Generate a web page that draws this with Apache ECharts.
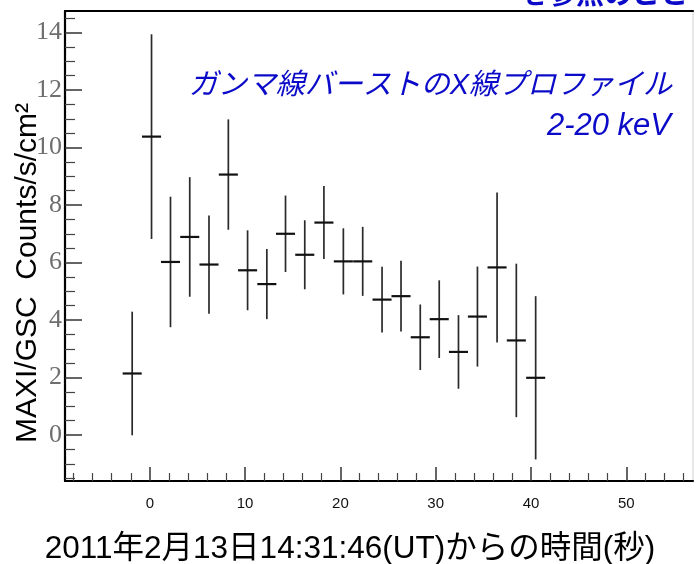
<!DOCTYPE html>
<html>
<head>
<meta charset="utf-8">
<script src="https://cdn.jsdelivr.net/npm/echarts@6/dist/echarts.min.js"></script>
<style>
html,body{margin:0;padding:0;background:#fff;}
#chart{width:697px;height:564px;}
</style>
</head>
<body>
<div id="chart"></div>
<script>
// ---- data ----
const binCenters = [-1.85, 0.18, 2.17, 4.19, 6.21, 8.24, 10.26, 12.28, 14.24, 16.26, 18.27,
                    20.31, 22.34, 24.37, 26.36, 28.38, 30.37, 32.39, 34.38, 36.44, 38.46, 40.49];
const rates = [2.14, 10.38, 6.02, 6.89, 5.93, 9.06, 5.73, 5.25, 7.00, 6.27, 7.39,
               6.04, 6.04, 4.71, 4.83, 3.40, 4.03, 2.89, 4.12, 5.83, 3.29, 1.99];
const rateErrors = [2.15, 3.56, 2.27, 2.08, 1.71, 1.92, 1.39, 1.22, 1.33, 1.20, 1.27,
                    1.15, 1.20, 1.14, 1.23, 1.14, 1.35, 1.28, 1.74, 2.61, 2.67, 2.84];
const binHalfWidth = 1.0;

const xRange = [-8.9, 57];
const yRange = [-1.6, 14.75];
const xMajorTicks = [0, 10, 20, 30, 40, 50];
const xMinorTicks = [-8, -6, -4, -2, 2, 4, 6, 8, 12, 14, 16, 18, 22, 24, 26, 28, 32, 34, 36, 38, 42, 44, 46, 48, 52, 54, 56];
const yMajorTicks = [0, 2, 4, 6, 8, 10, 12, 14];
const yMinorTicks = [-1.5, -1, -0.5, 0.5, 1, 1.5, 2.5, 3, 3.5, 4.5, 5, 5.5, 6.5, 7, 7.5, 8.5, 9, 9.5,
                     10.5, 11, 11.5, 12.5, 13, 13.5, 14.5];

const xTitle = '2011年2月13日14:31:46(UT)からの時間(秒)';
const yTitle = 'MAXI/GSC  Counts/s/cm²';
const noteLine1 = 'ガンマ線バーストのX線プロファイル';
const noteLine2 = '2-20 keV';
const topCutText = 'を参照のこと';

const seriesData = binCenters.map((x, i) => [x, rates[i], rateErrors[i], binHalfWidth]);

const chart = echarts.init(document.getElementById('chart'), null, {renderer: 'canvas'});
const blue = '#0a0ac8';

const option = {
  animation: false,
  backgroundColor: '#fff',
  grid: {left: 65, top: 11, right: 4, bottom: 83, show: true, borderColor: '#d0d0d0', borderWidth: 1},
  xAxis: [
    {
      type: 'value', position: 'bottom', min: xRange[0], max: xRange[1],
      axisLine: {show: true, onZero: false, lineStyle: {color: '#000', width: 2.2}},
      axisTick: {show: true, inside: true, length: 14, customValues: xMajorTicks, lineStyle: {color: '#333', width: 1.5}},
      axisLabel: {show: true, customValues: xMajorTicks, margin: 15, color: '#111', fontSize: 15, fontFamily: 'Liberation Sans, Arial, sans-serif'},
      splitLine: {show: false}
    },
    {
      type: 'value', position: 'bottom', min: xRange[0], max: xRange[1],
      axisLine: {show: false, onZero: false},
      axisTick: {show: true, inside: true, length: 8, customValues: xMinorTicks, lineStyle: {color: '#444', width: 1.2}},
      axisLabel: {show: false},
      splitLine: {show: false}
    },
    {
      type: 'value', position: 'top', min: xRange[0], max: xRange[1],
      axisLine: {show: true, onZero: false, lineStyle: {color: '#000', width: 2.2}},
      axisTick: {show: false}, axisLabel: {show: false}, splitLine: {show: false}
    }
  ],
  yAxis: [
    {
      type: 'value', position: 'left', min: yRange[0], max: yRange[1],
      axisLine: {show: true, onZero: false, lineStyle: {color: '#000', width: 2.2}},
      axisTick: {show: true, inside: true, length: 17, customValues: yMajorTicks, lineStyle: {color: '#333', width: 1.5}},
      axisLabel: {show: true, customValues: yMajorTicks, margin: 3, color: '#6e6e6e', fontSize: 26, fontFamily: 'Liberation Serif, Times New Roman, serif'},
      splitLine: {show: false}
    },
    {
      type: 'value', position: 'left', min: yRange[0], max: yRange[1],
      axisLine: {show: false, onZero: false},
      axisTick: {show: true, inside: true, length: 10, customValues: yMinorTicks, lineStyle: {color: '#444', width: 1.2}},
      axisLabel: {show: false},
      splitLine: {show: false}
    }
  ],
  series: [{
    type: 'custom',
    xAxisIndex: 0, yAxisIndex: 0,
    data: seriesData,
    encode: {x: 0, y: 1},
    renderItem: function (params, api) {
      const x = api.value(0), y = api.value(1), e = api.value(2), hw = api.value(3);
      const top = api.coord([x, y + e]);
      const bot = api.coord([x, y - e]);
      const left = api.coord([x - hw, y]);
      const right = api.coord([x + hw, y]);
      return {
        type: 'group',
        children: [
          {type: 'line', shape: {x1: top[0], y1: top[1], x2: bot[0], y2: bot[1]},
           style: {stroke: '#2a2a2a', lineWidth: 1.7}},
          {type: 'line', shape: {x1: left[0], y1: left[1], x2: right[0], y2: right[1]},
           style: {stroke: '#111', lineWidth: 2.2}}
        ]
      };
    }
  }],
  graphic: [
    {type: 'text', x: 672, y: 86, style: {text: noteLine1, fill: blue, textAlign: 'right', textVerticalAlign: 'middle',
      fontSize: 29, fontStyle: 'italic', fontFamily: 'Liberation Sans, Noto Sans CJK JP, sans-serif'}},
    {type: 'text', x: 671, y: 126, style: {text: noteLine2, fill: blue, textAlign: 'right', textVerticalAlign: 'middle',
      fontSize: 31, fontStyle: 'italic', fontFamily: 'Liberation Sans, Arial, sans-serif'}},
    {type: 'text', x: 520, y: 7, style: {text: topCutText, fill: blue, textAlign: 'left', textVerticalAlign: 'bottom',
      fontSize: 28, fontWeight: 'bold', fontFamily: 'Noto Sans CJK JP, sans-serif'}},
    {type: 'text', x: 350, y: 549, style: {text: xTitle, fill: '#000', textAlign: 'center', textVerticalAlign: 'middle',
      fontSize: 31.5, fontFamily: 'Liberation Sans, Noto Sans CJK JP, sans-serif'}},
    {type: 'text', x: 28, y: 273, rotation: Math.PI / 2, style: {text: yTitle, fill: '#000', textAlign: 'center', textVerticalAlign: 'middle',
      fontSize: 30, fontFamily: 'Liberation Sans, Arial, sans-serif'}}
  ]
};
chart.setOption(option);
</script>
</body>
</html>
